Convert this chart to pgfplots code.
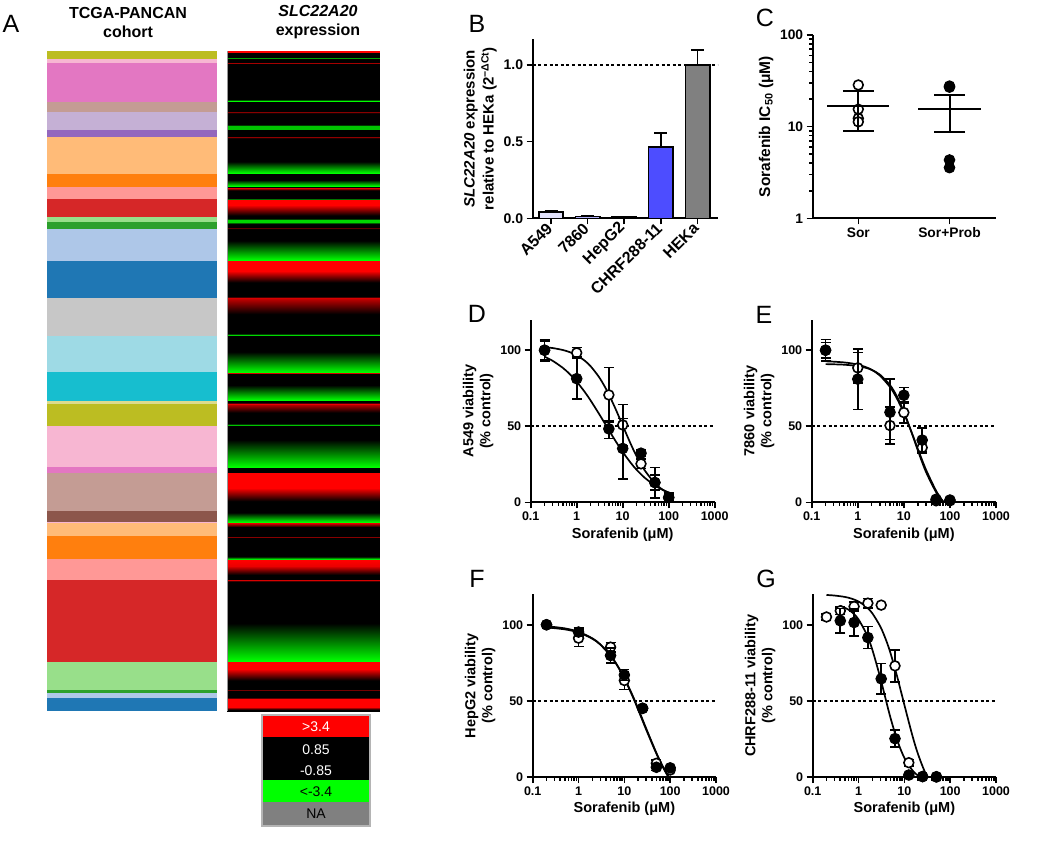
\documentclass[border=0pt]{standalone}
\usepackage{fontspec}
\setmainfont{Liberation Sans}
\usepackage{pgfplots}
\pgfplotsset{compat=1.18}
\pgfkeys{/pgf/number format/assume math mode=true}
\pgfplotsset{
  prism/.style={
    scale only axis,
    axis x line*=bottom, axis y line*=left,
    axis line style={line width=2pt,-},
    tick style={line width=1.6pt, black},
    tick align=outside,
    major tick length=6pt, minor tick length=3.5pt,
    tick label style={font=\bfseries\fontsize{12.5}{14}\selectfont},
    label style={font=\bfseries\fontsize{14.5}{17}\selectfont},
    ylabel style={align=center},
    clip mode=individual,
  },
  filled/.style={only marks, mark=*, mark size=5.3pt, mark options={fill=black, draw=black, line width=1pt}},
  open/.style={only marks, mark=*, mark size=4.9pt, mark options={fill=white, draw=black, line width=1.6pt}},
  ebar/.style={error bars/.cd, y dir=both, y explicit, error bar style={line width=1.6pt, black}, error mark options={rotate=90, line width=1.6pt, mark size=5pt, black}},
  fit/.style={black, line width=1.7pt, smooth, no marks},
  half/.style={black, dash pattern=on 3pt off 2.6pt, line width=1.8pt, no marks},
  bbar/.style={ybar, bar width=24.4pt, bar shift=0pt, draw=black, line width=1.6pt,
    error bars/.cd, y dir=plus, y explicit, error bar style={line width=1.6pt}, error mark options={rotate=90, mark size=6.5pt, line width=1.6pt}},
}
\definecolor{t1}{HTML}{1F77B4}\definecolor{t2}{HTML}{AEC7E8}
\definecolor{t3}{HTML}{FF7F0E}\definecolor{t4}{HTML}{FFBB78}
\definecolor{t5}{HTML}{2CA02C}\definecolor{t6}{HTML}{98DF8A}
\definecolor{t7}{HTML}{D62728}\definecolor{t8}{HTML}{FF9896}
\definecolor{t9}{HTML}{9467BD}\definecolor{t10}{HTML}{C5B0D5}
\definecolor{t11}{HTML}{8C564B}\definecolor{t12}{HTML}{C49C94}
\definecolor{t13}{HTML}{E377C2}\definecolor{t14}{HTML}{F7B6D2}
\definecolor{t16}{HTML}{C7C7C7}
\definecolor{t17}{HTML}{BCBD22}\definecolor{t18}{HTML}{DBDB8D}
\definecolor{t19}{HTML}{17BECF}\definecolor{t20}{HTML}{9EDAE5}
\definecolor{bA}{RGB}{224,224,250}\definecolor{bB}{RGB}{176,176,250}
\definecolor{bC}{RGB}{130,130,250}\definecolor{bD}{RGB}{77,77,255}
\definecolor{bE}{RGB}{128,128,128}
\begin{document}
\begin{tikzpicture}[x=1pt,y=1pt]
\path[use as bounding box] (0,0) rectangle (1050,-849);

% ---------------- Panel A ----------------
\node[font=\fontsize{25}{28}\selectfont] at (11,-24) {A};
\node[font=\bfseries\fontsize{16}{19}\selectfont, align=center] at (128,-22.5) {TCGA-PANCAN\\cohort};
\node[font=\bfseries\fontsize{16}{19}\selectfont, align=center] at (318,-22.5) {\itshape SLC22A20\\expression};
\begin{axis}[scale only axis, hide axis, at={(47pt,-51pt)}, anchor=north west,
  width=332pt, height=660pt, xmin=47, xmax=379, ymin=51, ymax=711, y dir=reverse,
  colormap={expr}{rgb255(0cm)=(0,255,0); rgb255(2.55cm)=(0,0,0); rgb255(4.25cm)=(0,0,0); rgb255(6.8cm)=(255,0,0)},
  point meta min=-3.4, point meta max=3.4]
\addplot[fill=t17,draw=none] coordinates {(47,51)(217,51)(217,59.3)(47,59.3)} -- cycle;
\addplot[fill=t14,draw=none] coordinates {(47,59.3)(217,59.3)(217,62.7)(47,62.7)} -- cycle;
\addplot[fill=t13,draw=none] coordinates {(47,62.7)(217,62.7)(217,102)(47,102)} -- cycle;
\addplot[fill=t12,draw=none] coordinates {(47,102)(217,102)(217,112)(47,112)} -- cycle;
\addplot[fill=t10,draw=none] coordinates {(47,112)(217,112)(217,130)(47,130)} -- cycle;
\addplot[fill=t9,draw=none] coordinates {(47,130)(217,130)(217,136.7)(47,136.7)} -- cycle;
\addplot[fill=t4,draw=none] coordinates {(47,136.7)(217,136.7)(217,174.3)(47,174.3)} -- cycle;
\addplot[fill=t3,draw=none] coordinates {(47,174.3)(217,174.3)(217,186.7)(47,186.7)} -- cycle;
\addplot[fill=t8,draw=none] coordinates {(47,186.7)(217,186.7)(217,199.3)(47,199.3)} -- cycle;
\addplot[fill=t7,draw=none] coordinates {(47,199.3)(217,199.3)(217,217.3)(47,217.3)} -- cycle;
\addplot[fill=t6,draw=none] coordinates {(47,217.3)(217,217.3)(217,222.3)(47,222.3)} -- cycle;
\addplot[fill=t5,draw=none] coordinates {(47,222.3)(217,222.3)(217,228.7)(47,228.7)} -- cycle;
\addplot[fill=t2,draw=none] coordinates {(47,228.7)(217,228.7)(217,260.7)(47,260.7)} -- cycle;
\addplot[fill=t1,draw=none] coordinates {(47,260.7)(217,260.7)(217,298.3)(47,298.3)} -- cycle;
\addplot[fill=t16,draw=none] coordinates {(47,298.3)(217,298.3)(217,336)(47,336)} -- cycle;
\addplot[fill=t20,draw=none] coordinates {(47,336)(217,336)(217,372)(47,372)} -- cycle;
\addplot[fill=t19,draw=none] coordinates {(47,372)(217,372)(217,400.7)(47,400.7)} -- cycle;
\addplot[fill=t18,draw=none] coordinates {(47,400.7)(217,400.7)(217,404)(47,404)} -- cycle;
\addplot[fill=t17,draw=none] coordinates {(47,404)(217,404)(217,426)(47,426)} -- cycle;
\addplot[fill=t14,draw=none] coordinates {(47,426)(217,426)(217,467.3)(47,467.3)} -- cycle;
\addplot[fill=t13,draw=none] coordinates {(47,467.3)(217,467.3)(217,472.7)(47,472.7)} -- cycle;
\addplot[fill=t12,draw=none] coordinates {(47,472.7)(217,472.7)(217,511)(47,511)} -- cycle;
\addplot[fill=t11,draw=none] coordinates {(47,511)(217,511)(217,522)(47,522)} -- cycle;
\addplot[fill=t14,draw=none] coordinates {(47,522)(217,522)(217,523.3)(47,523.3)} -- cycle;
\addplot[fill=t4,draw=none] coordinates {(47,523.3)(217,523.3)(217,536)(47,536)} -- cycle;
\addplot[fill=t3,draw=none] coordinates {(47,536)(217,536)(217,559.3)(47,559.3)} -- cycle;
\addplot[fill=t8,draw=none] coordinates {(47,559.3)(217,559.3)(217,580)(47,580)} -- cycle;
\addplot[fill=t7,draw=none] coordinates {(47,580)(217,580)(217,661.7)(47,661.7)} -- cycle;
\addplot[fill=t6,draw=none] coordinates {(47,661.7)(217,661.7)(217,690)(47,690)} -- cycle;
\addplot[fill=t5,draw=none] coordinates {(47,690)(217,690)(217,693.3)(47,693.3)} -- cycle;
\addplot[fill=t2,draw=none] coordinates {(47,693.3)(217,693.3)(217,698.3)(47,698.3)} -- cycle;
\addplot[fill=t1,draw=none] coordinates {(47,698.3)(217,698.3)(217,710.7)(47,710.7)} -- cycle;
\addplot[fill=black,draw=none] coordinates {(227,51)(379,51)(379,711)(227,711)} -- cycle;
\addplot[surf, shader=interp, mesh/cols=2, point meta=explicit] table[meta=v] {
x y v
227 51 3.4
379 51 3.4
227 52.5 3.4
379 52.5 3.4
227 53.4 0
379 53.4 0
227 56.8 0
379 56.8 0
227 58 -2.5
379 58 -2.5
227 59.2 0
379 59.2 0
227 62 0
379 62 0
227 63 2.5
379 63 2.5
227 64.2 0
379 64.2 0
227 99.3 0
379 99.3 0
227 100.8 -3.4
379 100.8 -3.4
227 102.3 0
379 102.3 0
227 111.2 0
379 111.2 0
227 112.4 2.2
379 112.4 2.2
227 113.6 0
379 113.6 0
227 123.5 0
379 123.5 0
227 125.5 -2.8
379 125.5 -2.8
227 128.5 -2.8
379 128.5 -2.8
227 130.2 0
379 130.2 0
227 136 0
379 136 0
227 137.2 2.3
379 137.2 2.3
227 138.5 0
379 138.5 0
227 160 -0.5
379 160 -0.5
227 172.8 -3.4
379 172.8 -3.4
227 174 0
379 174 0
227 179 -0.5
379 179 -0.5
227 186.3 -3.4
379 186.3 -3.4
227 187.5 3.2
379 187.5 3.2
227 189.6 1.2
379 189.6 1.2
227 190.6 0
379 190.6 0
227 197.6 0
379 197.6 0
227 198.8 -2
379 198.8 -2
227 200 3.4
379 200 3.4
227 204.5 3.4
379 204.5 3.4
227 216.5 0.5
379 216.5 0.5
227 218.4 0
379 218.4 0
227 219.8 -3
379 219.8 -3
227 221.8 -3
379 221.8 -3
227 222.6 -1.5
379 222.6 -1.5
227 223.4 -1.8
379 223.4 -1.8
227 224.6 0
379 224.6 0
227 227.2 0
379 227.2 0
227 228.3 1.8
379 228.3 1.8
227 229.5 0
379 229.5 0
227 238 -0.5
379 238 -0.5
227 260.2 -3.4
379 260.2 -3.4
227 261.2 3.4
379 261.2 3.4
227 271 3.4
379 271 3.4
227 284 0.5
379 284 0.5
227 296.4 0
379 296.4 0
227 297.7 3
379 297.7 3
227 300 2.6
379 300 2.6
227 317 0.5
379 317 0.5
227 333.3 0
379 333.3 0
227 334.8 -3
379 334.8 -3
227 336.4 0
379 336.4 0
227 349 -0.5
379 349 -0.5
227 371.7 -3.4
379 371.7 -3.4
227 372.6 3
379 372.6 3
227 373.8 0
379 373.8 0
227 383 -0.5
379 383 -0.5
227 400.1 -3.4
379 400.1 -3.4
227 401.3 0
379 401.3 0
227 402.4 0
379 402.4 0
227 403.5 3.2
379 403.5 3.2
227 405 2.6
379 405 2.6
227 415 0.3
379 415 0.3
227 423.3 0
379 423.3 0
227 424.8 -2.8
379 424.8 -2.8
227 426.4 0
379 426.4 0
227 436 -0.5
379 436 -0.5
227 466.6 -3.4
379 466.6 -3.4
227 468 0
379 468 0
227 472.2 0
379 472.2 0
227 473.3 3.4
379 473.3 3.4
227 488 3.4
379 488 3.4
227 503 0.5
379 503 0.5
227 510.5 0
379 510.5 0
227 512 -0.7
379 512 -0.7
227 521.8 -3.4
379 521.8 -3.4
227 522.8 3.2
379 522.8 3.2
227 525.5 1.5
379 525.5 1.5
227 526.8 0
379 526.8 0
227 535.9 0
379 535.9 0
227 537 2.2
379 537 2.2
227 538.2 0
379 538.2 0
227 555.5 -0.3
379 555.5 -0.3
227 558.8 -3.2
379 558.8 -3.2
227 559.8 3.4
379 559.8 3.4
227 566 3.2
379 566 3.2
227 577 0.3
379 577 0.3
227 579 0
379 579 0
227 580.2 3
379 580.2 3
227 581.6 0
379 581.6 0
227 618 -0.5
379 618 -0.5
227 661.2 -3.4
379 661.2 -3.4
227 662.2 3.4
379 662.2 3.4
227 669 3.4
379 669 3.4
227 683 0.3
379 683 0.3
227 688.9 0
379 688.9 0
227 690 2
379 690 2
227 691.2 0
379 691.2 0
227 697.4 0
379 697.4 0
227 698.5 3.4
379 698.5 3.4
227 706.5 3.4
379 706.5 3.4
227 709.5 0.5
379 709.5 0.5
227 711 0
379 711 0
};
\addplot[color={rgb,255:red,150;green,150;blue,150}, line width=0.8pt, no marks] coordinates {(227.4,51)(227.4,711)};
\end{axis}
% key
\fill[red] (263,-716) rectangle (369,-737);
\fill[black] (263,-737) rectangle (369,-780);
\fill[green] (263,-780) rectangle (369,-802);
\fill[gray] (263,-802) rectangle (369,-825);
\draw[line width=2pt, color={rgb,255:red,180;green,180;blue,180}] (262,-715) rectangle (370,-826);
\begin{scope}[every node/.style={font=\fontsize{14}{16}\selectfont}]
\node[white] at (316,-727) {>3.4};
\node[white] at (316,-750) {0.85};
\node[white] at (316,-771) {-0.85};
\node[black] at (316,-792) {<-3.4};
\node[black] at (316,-814) {NA};
\end{scope}

% ---------------- Panel B ----------------
\node[font=\fontsize{25}{28}\selectfont] at (477,-24) {B};
\begin{axis}[prism, at={(532.7pt,-218.3pt)}, anchor=south west, width=185.3pt, height=179.3pt,
  xmin=-0.5, xmax=4.56, ymin=0, ymax=1.17,
  xtick={0,1,2,3,4}, xticklabels={A549,7860,HepG2,CHRF288-11,HEKa},
  yticklabel style={font=\bfseries\fontsize{14}{16}\selectfont},
  xticklabel style={font=\bfseries\fontsize{16}{18}\selectfont, rotate=45, anchor=east, inner sep=2pt},
  label style={font=\bfseries\fontsize{15}{19}\selectfont},
  ytick={0,0.5,1}, yticklabels={0.0,0.5,1.0},
  ylabel={\textit{SLC22A20} expression\\relative to HEKa (2\textsuperscript{−ΔCt})}]
\addplot[fill=bA, bbar] coordinates {(0,0.041) +- (0,0.006)};
\addplot[fill=bB, bbar] coordinates {(1,0.012) +- (0,0.002)};
\addplot[fill=bC, bbar] coordinates {(2,0.008) +- (0,0.002)};
\addplot[fill=bD, bbar] coordinates {(3,0.466) +- (0,0.09)};
\addplot[fill=bE, bbar] coordinates {(4,1.0) +- (0,0.10)};
\addplot[half] coordinates {(-0.5,1)(4.56,1)};
\end{axis}

% ---------------- Panel C ----------------
\node[font=\fontsize{25}{28}\selectfont] at (765,-17.5) {C};
\begin{axis}[prism, at={(812.7pt,-218.3pt)}, anchor=south west, width=183.3pt, height=183.3pt,
  ymode=log, ymin=1, ymax=100, xmin=-0.5, xmax=1.51,
  tick label style={font=\bfseries\fontsize{13.8}{16}\selectfont},
  label style={font=\bfseries\fontsize{15.5}{18}\selectfont},
  xtick={0,1}, xticklabels={Sor,Sor+Prob},
  ytick={1,10,100}, yticklabels={1,10,100},
  minor ytick={2,3,4,5,6,7,8,9,20,30,40,50,60,70,80,90},
  ylabel={Sorafenib IC\textsubscript{50} (μM)}]
\addplot[open] coordinates {(0,28.5)(0,15.5)(0,12.3)(0,11.3)};
\addplot[filled] coordinates {(1,27.7)(1,27)(1,4.33)(1,3.57)};
\addplot[black, line width=2pt, no marks] coordinates {(-0.34,16.8)(0.34,16.8)};
\addplot[black, line width=2pt, no marks] coordinates {(0.66,15.6)(1.34,15.6)};
\addplot[draw=none, mark=none, error bars/.cd, y dir=both, y explicit,
  error bar style={line width=2pt, black},
  error mark options={rotate=90, mark size=15.5pt, line width=2pt, black}]
  coordinates {(0,16.8) += (0,7.9) -= (0,7.84) (1,15.6) += (0,6.5) -= (0,6.8)};
\end{axis}

% ---------------- Panel D ----------------
\node[font=\fontsize{25}{28}\selectfont] at (477,-314) {D};
\begin{axis}[xmode=log, prism, at={(530.7pt,-502.3pt)}, anchor=south west, width=184pt, height=182.5pt,
  xmin=0.1, xmax=1000, ymin=0, ymax=120,
  xtick={0.1,1,10,100,1000}, xticklabels={0.1,1,10,100,1000},
  minor xtick={0.2,0.3,0.4,0.5,0.6,0.7,0.8,0.9,2,3,4,5,6,7,8,9,20,30,40,50,60,70,80,90,200,300,400,500,600,700,800,900},
  ytick={0,50,100}, xlabel={Sorafenib (μM)},
  ylabel={A549 viability\\(\% control)}]
\addplot[half] coordinates {(0.1,50)(1000,50)};
\addplot[fit] coordinates {(0.2,102.03)(0.3,101.43)(0.5,100.14)(0.7,98.78)(1,96.66)(1.5,93.07)(2,89.51)(3,82.72)(4,76.51)(5,70.91)(7,61.39)(10,50.50)(15,38.27)(20,30.40)(30,21.08)(50,12.60)(70,8.77)(100,5.89)};
\addplot[fit] coordinates {(0.2,95.73)(0.3,93.04)(0.5,88.39)(0.7,84.42)(1,79.35)(1.5,72.50)(2,67.01)(3,58.58)(4,52.33)(5,47.46)(7,40.27)(10,33.12)(15,25.89)(20,21.44)(30,16.18)(50,11.09)(70,8.56)(100,6.46)};
\addplot[open, ebar] coordinates {(0.2,100) +- (0,6) (1,98.3) +- (0,3.5) (5,70.6) += (0,18) -= (0,17) (10,50.9) += (0,13.4) -= (0,14) (25,25.3) +- (0,3) (50,13) +- (0,10) (100,3.3) +- (0,3)};
\addplot[filled, ebar] coordinates {(0.2,100) +- (0,7) (1,81.3) += (0,14.5) -= (0,13.4) (5,48.3) += (0,4.7) -= (0,6.3) (10,35.4) += (0,19.6) -= (0,20) (25,32.3) +- (0,2) (50,13) +- (0,5) (100,3) +- (0,2)};
\end{axis}

% ---------------- Panel E ----------------
\node[font=\fontsize{25}{28}\selectfont] at (764,-315) {E};
\begin{axis}[xmode=log, prism, at={(811.7pt,-502.3pt)}, anchor=south west, width=184.3pt, height=182.5pt,
  xmin=0.1, xmax=1000, ymin=0, ymax=120,
  xtick={0.1,1,10,100,1000}, xticklabels={0.1,1,10,100,1000},
  minor xtick={0.2,0.3,0.4,0.5,0.6,0.7,0.8,0.9,2,3,4,5,6,7,8,9,20,30,40,50,60,70,80,90,200,300,400,500,600,700,800,900},
  ytick={0,50,100}, xlabel={Sorafenib (μM)},
  ylabel={7860 viability\\(\% control)}]
\addplot[half] coordinates {(0.1,50)(1000,50)};
\addplot[fit] coordinates {(0.2,92.69)(0.3,92.48)(0.5,91.99)(0.7,91.44)(1,90.54)(1.5,88.89)(2,87.13)(3,83.42)(5,75.82)(7,68.53)(10,58.69)(15,45.37)(20,35.31)(30,21.70)(50,7.62)(70,0.78)(80,-1.42)(100,-4.51)};
\addplot[fit] coordinates {(0.2,90.87)(0.5,90.49)(1,89.58)(1.5,88.42)(2,87.08)(3,84.03)(5,77.11)(7,69.89)(10,59.60)(15,45.22)(20,34.37)(30,20.20)(50,6.71)(70,0.79)(100,-3.39)};
\addplot[open, ebar] coordinates {(0.2,100) +- (0,5) (1,88.4) +- (0,10) (5,50.5) +- (0,12) (10,59) +- (0,7) (25,36) +- (0,4) (50,1) +- (0,1) (100,1) +- (0,1)};
\addplot[filled, ebar] coordinates {(0.2,100) +- (0,7) (1,81) +- (0,20) (5,59.2) += (0,22) -= (0,18) (10,70.4) +- (0,5) (25,40.9) +- (0,8) (50,2) +- (0,1) (100,1.5) +- (0,1)};
\end{axis}

% ---------------- Panel F ----------------
\node[font=\fontsize{25}{28}\selectfont] at (477,-579) {F};
\begin{axis}[xmode=log, prism, at={(532.7pt,-777pt)}, anchor=south west, width=183.3pt, height=182.7pt,
  xmin=0.1, xmax=1000, ymin=0, ymax=120,
  xtick={0.1,1,10,100,1000}, xticklabels={0.1,1,10,100,1000},
  minor xtick={0.2,0.3,0.4,0.5,0.6,0.7,0.8,0.9,2,3,4,5,6,7,8,9,20,30,40,50,60,70,80,90,200,300,400,500,600,700,800,900},
  ytick={0,50,100}, xlabel={Sorafenib (μM)},
  ylabel={HepG2 viability\\(\% control)}]
\addplot[half] coordinates {(0.1,50)(1000,50)};
\addplot[fit] coordinates {(0.2,99.05)(0.5,97.65)(1,95.39)(2,91.10)(3,87.08)(5,79.81)(7,73.39)(10,65.05)(15,53.79)(20,44.92)(30,31.82)(50,15.80)(70,6.38)(100,-2.20)};
\addplot[fit] coordinates {(0.2,98.23)(0.5,96.99)(1,94.92)(2,90.83)(3,86.92)(5,79.68)(7,73.20)(10,64.72)(15,53.24)(20,44.23)(30,31.08)(50,15.38)(70,6.41)(100,-1.55)};
\addplot[open, ebar] coordinates {(0.2,100) +- (0,0.5) (1,91.2) +- (0,5.5) (5,85.3) +- (0,3) (10,63.4) +- (0,6) (25,45) +- (0,1) (50,9) +- (0,2) (100,4.6) +- (0,1)};
\addplot[filled, ebar] coordinates {(0.2,100) +- (0,0.5) (1,95.2) +- (0,2.6) (5,79.8) +- (0,5) (10,67) +- (0,3.5) (25,45.2) +- (0,1) (50,6.4) +- (0,2) (100,6) +- (0,1)};
\end{axis}

% ---------------- Panel G ----------------
\node[font=\fontsize{25}{28}\selectfont] at (766,-579) {G};
\begin{axis}[xmode=log, prism, at={(812.7pt,-777pt)}, anchor=south west, width=183.3pt, height=182.7pt,
  xmin=0.1, xmax=1000, ymin=0, ymax=120,
  xtick={0.1,1,10,100,1000}, xticklabels={0.1,1,10,100,1000},
  minor xtick={0.2,0.3,0.4,0.5,0.6,0.7,0.8,0.9,2,3,4,5,6,7,8,9,20,30,40,50,60,70,80,90,200,300,400,500,600,700,800,900},
  ytick={0,50,100}, xlabel={Sorafenib (μM)},
  ylabel={CHRF288-11 viability\\(\% control)}]
\addplot[half] coordinates {(0.1,50)(1000,50)};
\addplot[fit] coordinates {(0.2,119.56)(0.3,119.19)(0.5,118.29)(0.7,117.19)(1,115.29)(1.5,111.62)(2,107.53)(3,98.74)(4,89.83)(5,81.23)(7,65.76)(10,47.43)(15,27.15)(20,14.81)(30,1.44)(50,-9.10)};
\addplot[fit] coordinates {(0.4,112.47)(0.6,109.99)(0.8,106.96)(1,103.50)(1.5,93.80)(2,83.63)(3,64.91)(4,49.99)(5,38.75)(7,24.06)(10,12.59)(15,4.38)(20,0.87)(30,-2.03)(50,-3.76)};
\addplot[open, ebar] coordinates {(0.2,105.1) +- (0,2) (0.4,109.2) +- (0,2.5) (0.8,112) +- (0,3) (1.6,114.2) +- (0,3) (3.125,112.9) +- (0,1) (6.25,73) +- (0,10.4) (12.5,9.4) +- (0,2) (25,0.3) +- (0,0.5) (50,0) +- (0,0.3)};
\addplot[filled, ebar] coordinates {(0.4,102.6) +- (0,8) (0.8,101.5) +- (0,9) (1.6,91.6) +- (0,7.3) (3.125,64.5) +- (0,10) (6.25,25.2) +- (0,5.5) (12.5,1.3) +- (0,0.5) (25,0.3) +- (0,0.3) (50,0.2) +- (0,0.3)};
\end{axis}
\end{tikzpicture}
\end{document}
